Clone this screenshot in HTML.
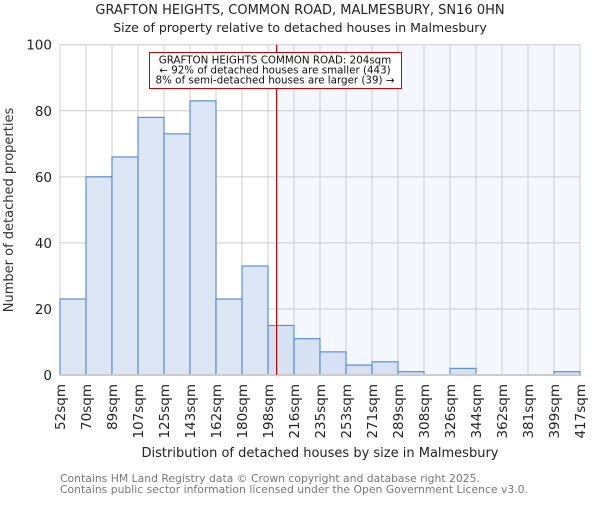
<!DOCTYPE html>
<html><head><meta charset="utf-8"><style>
body{margin:0;background:#fff}
svg text{font-family:"DejaVu Sans","Liberation Sans",sans-serif}
</style></head><body>
<svg id="chart" width="600" height="500" xmlns="http://www.w3.org/2000/svg">
<text x="300" y="14" font-size="13" text-anchor="middle" fill="#222">GRAFTON HEIGHTS, COMMON ROAD, MALMESBURY, SN16 0HN</text>
<text x="300" y="32" font-size="12.5" text-anchor="middle" fill="#222">Size of property relative to detached houses in Malmesbury</text>
<g id="plot"></g>
<text transform="translate(13,210) rotate(-90)" font-size="13" text-anchor="middle" fill="#333">Number of detached properties</text>
<text x="320" y="457" font-size="13" text-anchor="middle" fill="#222">Distribution of detached houses by size in Malmesbury</text>
<text x="60" y="482" font-size="10.8" fill="#777">Contains HM Land Registry data © Crown copyright and database right 2025.</text>
<text x="60" y="493" font-size="10.8" fill="#777">Contains public sector information licensed under the Open Government Licence v3.0.</text>
</svg>
<script>
const edges=["52sqm","70sqm","89sqm","107sqm","125sqm","143sqm","162sqm","180sqm","198sqm","216sqm","235sqm","253sqm","271sqm","289sqm","308sqm","326sqm","344sqm","362sqm","381sqm","399sqm","417sqm"];
const counts=[23,60,66,78,73,83,23,33,15,11,7,3,4,1,0,2,0,0,0,1];
const yTicks=[0,20,40,60,80,100];
const markerBin=8+6/18;
const NS="http://www.w3.org/2000/svg";
const L=60,R=580,T=44.7,B=375;
const nb=counts.length;
const x=i=>L+(R-L)*i/nb;
const y=v=>B-(B-T)*v/100;
const g=document.getElementById('plot');
function el(t,a){const e=document.createElementNS(NS,t);for(const k in a)e.setAttribute(k,a[k]);g.appendChild(e);return e;}
const mx=x(markerBin);
let e=el('rect',{x:mx,y:T,width:R-mx,height:B-T,fill:'#f4f7fe'});


for(let i=0;i<=nb;i++){e=el('line',{x1:x(i),x2:x(i),y1:T,y2:B,stroke:'#ccc','stroke-width':1});

}
yTicks.forEach(v=>{e=el('line',{x1:L,x2:R,y1:y(v),y2:y(v),stroke:'#ccc','stroke-width':1});


const t=el('text',{x:L-8,y:y(v)+5,'font-size':13.5,'text-anchor':'end',fill:'#222'});t.textContent=v;

});
counts.forEach((c,i)=>{if(c<=0)return;
const r=el('rect',{x:x(i),y:y(c),width:x(i+1)-x(i),height:B-y(c),fill:x(i)>=mx-13?'#d6e1f3':'#dde6f4',stroke:'#5b8fd6','stroke-width':1.2});

});
e=el('line',{x1:L,x2:R,y1:B,y2:B,stroke:'#ccc','stroke-width':2});


edges.forEach((s,i)=>{const t=el('text',{transform:`translate(${x(i)+5},384) rotate(-90)`,'font-size':13.5,'text-anchor':'end',fill:'#222'});t.textContent=s;

});
e=el('line',{x1:mx,x2:mx,y1:T,y2:B,stroke:'#a00',"stroke-width":1.2});


e=el('rect',{x:149.5,y:52.5,width:252,height:36,fill:'#fff',stroke:'#c00','stroke-width':1});


["GRAFTON HEIGHTS COMMON ROAD: 204sqm","← 92% of detached houses are smaller (443)","8% of semi-detached houses are larger (39) →"].forEach((s,k)=>{
const t=el('text',{x:275,y:63.5+k*10,'font-size':10.3,'text-anchor':'middle',fill:'#111'});t.textContent=s;

});
</script>
</body></html>
